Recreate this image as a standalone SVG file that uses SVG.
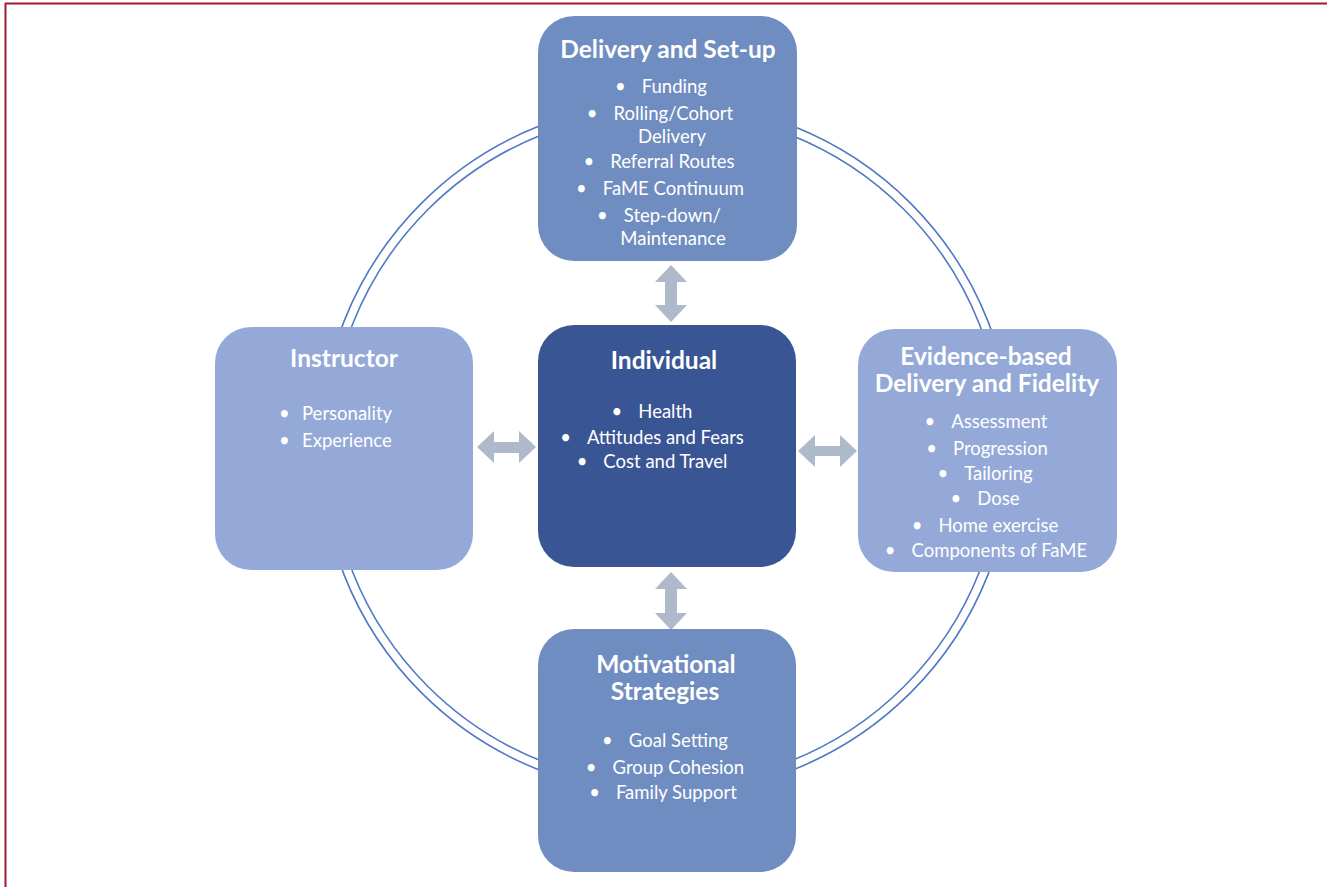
<svg xmlns="http://www.w3.org/2000/svg" width="1327" height="887" viewBox="0 0 1327 887">
<style>
.ring{fill:none;stroke:#5079C4;stroke-width:1.6}
.mid{fill:#6F8DC0}
.core{fill:#3A5594}
.side{fill:#94A9D7}
.arr{fill:#AEB9CA}
text{font-family:Lato,"Liberation Sans",sans-serif;fill:#FFFFFF}
.t{font-size:24.5px;font-weight:bold;text-anchor:middle}
.i{font-size:18.5px;text-anchor:middle}
.l{font-size:18.5px}
</style>
<rect x="0" y="0" width="1327" height="887" fill="#FFFFFF"/>
<g id="frame">
<line x1="5" y1="3.5" x2="1327" y2="3.5" stroke="#A31A2C" stroke-width="2"/>
<line x1="5.5" y1="3" x2="5.5" y2="887" stroke="#A31A2C" stroke-width="2"/>
</g>
<g id="ring">
<circle class="ring" cx="666" cy="448" r="346"/>
<circle class="ring" cx="666" cy="448" r="337"/>
</g>
<g id="connectors">
<polygon class="arr" points="671,265 687,282 677,282 677,305 687,305 671,322 655,305 665,305 665,282 655,282"/>
<polygon class="arr" points="671,572 687,589 677,589 677,613 687,613 671,630 655,613 665,613 665,589 655,589"/>
<polygon class="arr" points="477,447 494,431 494,442 519,442 519,431 536,447 519,463 519,453 494,453 494,463"/>
<polygon class="arr" points="798,451 815,435 815,446 840,446 840,435 857,451 840,467 840,456 815,456 815,467"/>
</g>
<g id="delivery">
<rect class="mid" x="538" y="16" width="259" height="245" rx="36"/>
<text class="t" x="668" y="58">Delivery and Set-up</text>
<text class="i" x="661" y="93">•<tspan dx="16">Funding</tspan></text>
<text class="i" x="660" y="120">•<tspan dx="16">Rolling/Cohort</tspan></text>
<text class="i" x="672" y="143">Delivery</text>
<text class="i" x="659" y="168">•<tspan dx="16">Referral Routes</tspan></text>
<text class="i" x="660" y="195">•<tspan dx="16">FaME Continuum</tspan></text>
<text class="i" x="659" y="222">•<tspan dx="16">Step-down/</tspan></text>
<text class="i" x="673" y="245">Maintenance</text>
</g>
<g id="individual">
<rect class="core" x="538" y="325" width="258" height="242" rx="36"/>
<text class="t" x="664" y="369">Individual</text>
<text class="i" x="652" y="418">•<tspan dx="16">Health</tspan></text>
<text class="i" x="652" y="444">•<tspan dx="16">Attitudes and Fears</tspan></text>
<text class="i" x="652" y="468">•<tspan dx="16">Cost and Travel</tspan></text>
</g>
<g id="instructor">
<rect class="side" x="215" y="327" width="258" height="243" rx="36"/>
<text class="t" x="344" y="367">Instructor</text>
<text class="l" x="279" y="420">•</text>
<text class="l" x="302" y="420">Personality</text>
<text class="l" x="279" y="447">•</text>
<text class="l" x="302" y="447">Experience</text>
</g>
<g id="evidence">
<rect class="side" x="858" y="329" width="259" height="243" rx="36"/>
<text class="t" x="986" y="365">Evidence-based</text>
<text class="t" x="987" y="392">Delivery and Fidelity</text>
<text class="i" x="986" y="428">•<tspan dx="16">Assessment</tspan></text>
<text class="i" x="987" y="455">•<tspan dx="16">Progression</tspan></text>
<text class="i" x="985" y="480">•<tspan dx="16">Tailoring</tspan></text>
<text class="i" x="985" y="505">•<tspan dx="16">Dose</tspan></text>
<text class="i" x="985" y="532">•<tspan dx="16">Home exercise</tspan></text>
<text class="i" x="986" y="557">•<tspan dx="16">Components of FaME</tspan></text>
</g>
<g id="motivational">
<rect class="mid" x="538" y="629" width="258" height="243" rx="36"/>
<text class="t" x="666" y="673">Motivational</text>
<text class="t" x="665" y="700">Strategies</text>
<text class="i" x="665" y="747">•<tspan dx="16">Goal Setting</tspan></text>
<text class="i" x="665" y="774">•<tspan dx="16">Group Cohesion</tspan></text>
<text class="i" x="663" y="799">•<tspan dx="16">Family Support</tspan></text>
</g>
</svg>
